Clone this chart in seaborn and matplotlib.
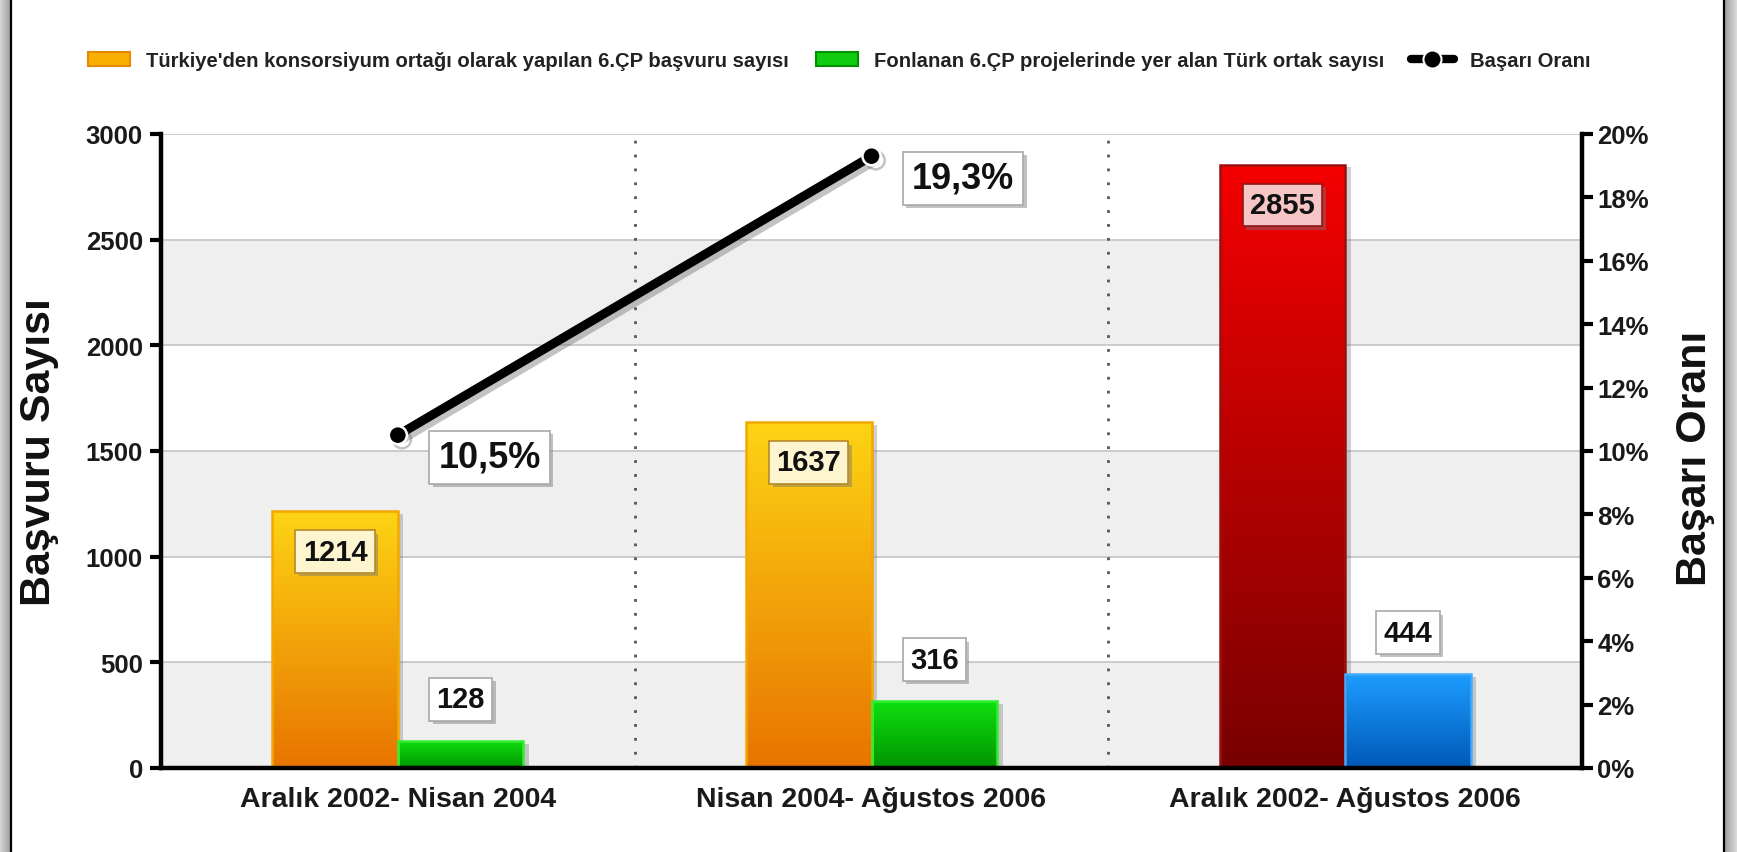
import numpy as np
import pandas as pd
import matplotlib
matplotlib.use("Agg")
import matplotlib.pyplot as plt
import matplotlib.patheffects as pe
from matplotlib.colors import LinearSegmentedColormap
from matplotlib.patches import Patch, Rectangle
from matplotlib.lines import Line2D
import seaborn as sns

# -----------------------------
# Data
# -----------------------------
periods = ["Aralık 2002- Nisan 2004", "Nisan 2004- Ağustos 2006", "Aralık 2002- Ağustos 2006"]
applications = [1214, 1637, 2855]
partners = [128, 316, 444]
success_rate = [10.5, 19.3, np.nan]   # no rate drawn for the full period

series_names = [
    "Türkiye'den konsorsiyum ortağı olarak yapılan 6.ÇP başvuru sayısı",
    "Fonlanan 6.ÇP projelerinde yer alan Türk ortak sayısı",
]
rate_name = "Başarı Oranı"
left_label = "Başvuru Sayısı"
right_label = "Başarı Oranı"

# -----------------------------
# Styles
# -----------------------------
# per series, per period: (top colour, bottom colour, edge colour)
bar_styles = [
    [("#fdd414", "#e87400", "#f2a800"), ("#fdd414", "#e87400", "#f2a800"), ("#f50000", "#780000", "#9a1010")],
    [("#10e010", "#009400", "#30ee30"), ("#10e010", "#009400", "#30ee30"), ("#1d9dff", "#0058b8", "#40aaff")],
]
label_box_inside = [("#fdf5d0", "#b58a2a"), ("#fdf5d0", "#b58a2a"), ("#f6c6c6", "#8a1a1a")]
label_box_outside = ("#ffffff", "#a8a8a8")

sns.set_style("white")
plt.rcParams["font.family"] = ["Liberation Sans", "DejaVu Sans"]
plt.rcParams["font.weight"] = "bold"

W, H = 1737, 853
fig = plt.figure(figsize=(W / 100, H / 100), dpi=100)
fig.patch.set_facecolor("white")

# plot area in pixels (left, right, top, bottom)
pl, pr, pt, pb = 161, 1582, 135, 769
ax = fig.add_axes([pl / W, 1 - pb / H, (pr - pl) / W, (pb - pt) / H])

df = pd.DataFrame({
    "period": periods * 2,
    "series": [series_names[0]] * len(periods) + [series_names[1]] * len(periods),
    "value": applications + partners,
})

sns.barplot(data=df, x="period", y="value", hue="series", order=periods,
            hue_order=series_names, width=0.53, ax=ax, legend=False,
            errorbar=None, zorder=2)

# twin axis with the success rate line
ax2 = ax.twinx()
rate_df = pd.DataFrame({"period": periods, "rate": success_rate}).dropna()
sns.pointplot(data=rate_df, x="period", y="rate", order=periods, ax=ax2,
              color="black", errorbar=None, linewidth=6.5, markersize=13,
              markeredgecolor="white", markeredgewidth=1.8)
for ln in ax2.lines:
    ln.set_path_effects([pe.SimpleLineShadow(offset=(3, -3), alpha=0.35, shadow_color="#555555"),
                         pe.Normal()])
    ln.set_zorder(5)
    ln.set_solid_capstyle("butt")

# -----------------------------
# Gradient bars + value labels
# -----------------------------
grad = np.linspace(0, 1, 256).reshape(-1, 1)
for si, cont in enumerate(ax.containers):
    for pi, bar in enumerate(cont.patches):
        top, bottom, edge = bar_styles[si][pi]
        x0, y0, w, h = bar.get_x(), bar.get_y(), bar.get_width(), bar.get_height()
        bar.set_facecolor(bottom)
        bar.set_edgecolor("none")
        bar.set_path_effects([pe.SimplePatchShadow(offset=(4, -2), alpha=0.3, shadow_rgbFace="#666666"),
                              pe.Normal()])
        cmap = LinearSegmentedColormap.from_list("g%d%d" % (si, pi), [bottom, top])
        im = ax.imshow(grad, extent=[x0, x0 + w, y0, y0 + h], origin="lower",
                       aspect="auto", cmap=cmap, zorder=2.1, interpolation="bilinear")
        im.set_clip_path(bar)
        ax.add_patch(Rectangle((x0, y0), w, h, fill=False, edgecolor=edge, lw=1.8, zorder=2.2))

        if si == 0:
            fc, ec = label_box_inside[pi]
            off = -29
        else:
            fc, ec = label_box_outside
            off = 30
        t = ax.annotate(str(int(h)), xy=(x0 + w / 2, h), xytext=(0, off), textcoords="offset points",
                        ha="center", va="center", fontsize=21, fontweight="bold", color="#111111",
                        zorder=6,
                        bbox=dict(boxstyle="square,pad=0.25", fc=fc, ec=ec, lw=1.2))
        t.get_bbox_patch().set_path_effects([pe.SimplePatchShadow(offset=(2.5, -2.5), alpha=0.45,
                                                                  shadow_rgbFace="#777777"),
                                             pe.Normal()])

# rate labels
for x, y in ax2.lines[0].get_xydata():
    if np.isnan(y):
        continue
    t = ax2.annotate(("%.1f" % y).replace(".", ",") + "%", xy=(x, y), xytext=(66, -16),
                     textcoords="offset points", ha="center", va="center", fontsize=26,
                     fontweight="bold", color="#111111", zorder=6,
                     bbox=dict(boxstyle="square,pad=0.25", fc="white", ec="#a8a8a8", lw=1.2))
    t.get_bbox_patch().set_path_effects([pe.SimplePatchShadow(offset=(2.5, -2.5), alpha=0.45,
                                                              shadow_rgbFace="#777777"),
                                         pe.Normal()])

# -----------------------------
# Axes styling
# -----------------------------
ymax = 3000
yticks = np.arange(0, ymax + 1, 500)
ax.set_ylim(0, ymax)
ax.set_yticks(yticks)
ax.set_yticklabels([str(v) for v in yticks])
for i in range(0, len(yticks) - 1, 2):
    ax.axhspan(yticks[i], yticks[i + 1], color="#efefef", zorder=0, lw=0)
ax.yaxis.grid(True, color="#c8c8c8", lw=1.3, zorder=0.5)
ax.xaxis.grid(False)
ax.set_axisbelow(True)

n = len(periods)
ax.set_xlim(-0.5, n - 0.5)
bounds = np.arange(n + 1) - 0.5
ax.set_xticks(bounds)
ax.set_xticklabels([""] * len(bounds))
ax.set_xticks(np.arange(n), minor=True)
ax.set_xticklabels(periods, minor=True, fontsize=20.5, fontweight="bold", color="#1a1a1a")
for b in bounds[1:-1]:
    ax.axvline(b, color="#555555", lw=2, ls=(0, (1, 4)), zorder=1)

ax.tick_params(axis="x", which="major", direction="out", length=9.5, width=3, color="black")
ax.tick_params(axis="x", which="minor", length=0, pad=13)
ax.tick_params(axis="y", which="major", direction="out", length=8, width=3, pad=5,
               labelsize=18.5, color="black", labelcolor="#1a1a1a", left=True)
ax.set_xlabel("")
ax.set_ylabel(left_label, fontsize=31, fontweight="bold", color="#111111", va="center")
ax.yaxis.set_label_coords(-0.086, 0.5)

ax2.set_ylim(0, 20)
rticks = np.arange(0, 21, 2)
ax2.set_yticks(rticks)
ax2.set_yticklabels(["%d%%" % v for v in rticks])
ax2.tick_params(axis="y", direction="out", length=8, width=3, pad=3, labelsize=18.5,
                color="black", labelcolor="#1a1a1a", right=True)
ax2.grid(False)
ax2.set_xlabel("")
ax2.set_ylabel(right_label, fontsize=31, fontweight="bold", color="#111111", va="center",
               rotation=90)
ax2.yaxis.set_label_coords(1.0795, 0.49)
ax.set_xlim(-0.5, n - 0.5)

for s in ["top", "right"]:
    ax.spines[s].set_visible(False)
for s in ["top", "left", "bottom"]:
    ax2.spines[s].set_visible(False)
for s in ["left", "bottom"]:
    ax.spines[s].set_linewidth(3.2)
    ax.spines[s].set_color("black")
ax2.spines["right"].set_linewidth(3.2)
ax2.spines["right"].set_color("black")

# -----------------------------
# Legend
# -----------------------------
handles = [
    Patch(facecolor="#f7b000", edgecolor="#e58a00", lw=1.5),
    Patch(facecolor="#10cc10", edgecolor="#009000", lw=1.5),
    Line2D([], [], color="black", lw=6, marker="o", markersize=13,
           markeredgecolor="white", markeredgewidth=1.5),
]
fig.legend(handles, series_names + [rate_name], loc="center", bbox_to_anchor=(0.483, 0.928),
           ncol=3, frameon=False, prop={"weight": "bold", "size": 14.6},
           handlelength=2.1, handleheight=0.7, handletextpad=0.8, columnspacing=1.3,
           labelcolor="#222222")

# -----------------------------
# Grey side frame
# -----------------------------
side = np.linspace(0, 1, 64).reshape(1, -1)
lax = fig.add_axes([0, 0, 11 / W, 1])
lax.imshow(side, cmap=LinearSegmentedColormap.from_list("l", ["#d6d6d6", "#9c9c9c"]),
           aspect="auto", extent=[0, 1, 0, 1])
lax.axis("off")
rax = fig.add_axes([1725 / W, 0, 12 / W, 1])
rax.imshow(side, cmap=LinearSegmentedColormap.from_list("r", ["#a0a0a0", "#dcdcdc"]),
           aspect="auto", extent=[0, 1, 0, 1])
rax.axis("off")
fig.add_artist(Line2D([11 / W, 11 / W], [0, 1], transform=fig.transFigure, color="black", lw=1.6))
fig.add_artist(Line2D([1724 / W, 1724 / W], [0, 1], transform=fig.transFigure, color="black", lw=1.6))

fig.savefig("out.png", dpi=100)
